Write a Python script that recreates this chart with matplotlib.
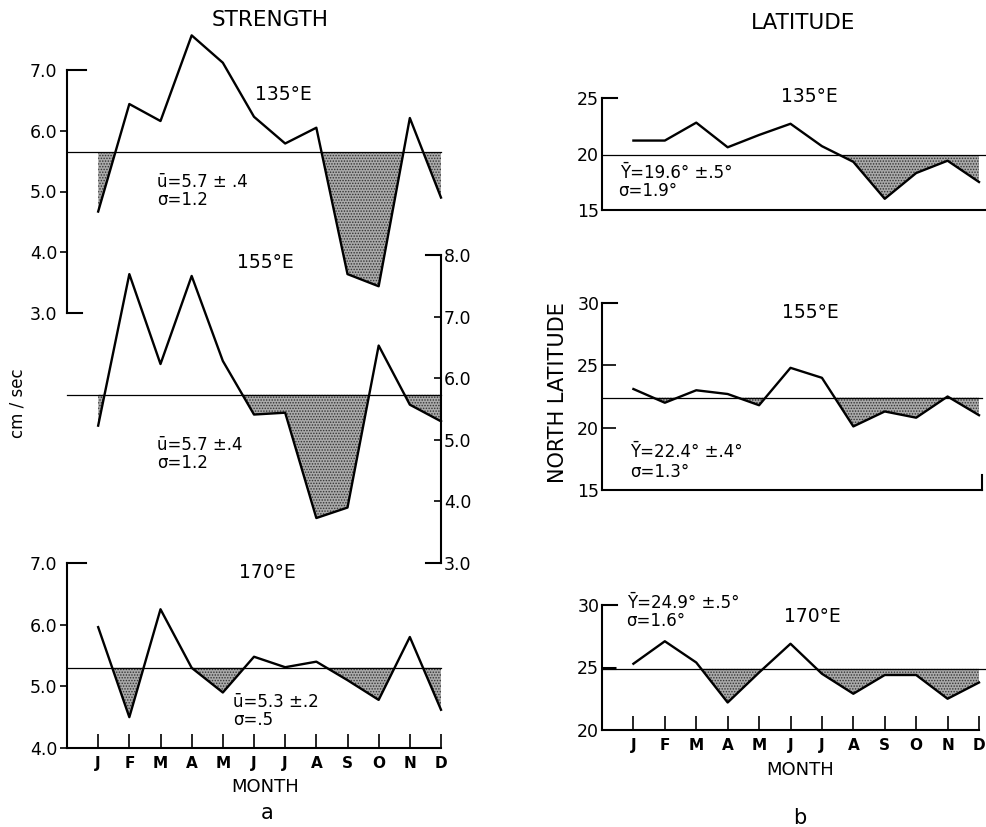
import matplotlib
matplotlib.use("Agg")
import matplotlib.pyplot as plt
import numpy as np

# chart data
months = ["J", "F", "M", "A", "M", "J", "J", "A", "S", "O", "N", "D"]

str_135 = [4.67, 6.44, 6.16, 7.57, 7.12, 6.23, 5.79, 6.05, 3.64, 3.44, 6.21, 4.90]
str_155 = [5.23, 7.69, 6.23, 7.66, 6.28, 5.41, 5.44, 3.73, 3.90, 6.53, 5.57, 5.30]
str_170 = [5.96, 4.50, 6.25, 5.30, 4.90, 5.48, 5.31, 5.40, 5.10, 4.78, 5.80, 4.62]
str_mean = [5.65, 5.73, 5.30]

lat_135 = [21.2, 21.2, 22.8, 20.6, 21.7, 22.7, 20.7, 19.3, 16.0, 18.3, 19.4, 17.5]
lat_155 = [23.1, 22.0, 23.0, 22.7, 21.8, 24.8, 24.0, 20.1, 21.3, 20.8, 22.5, 21.0]
lat_170 = [25.3, 27.1, 25.4, 22.2, 24.6, 26.9, 24.5, 22.9, 24.4, 24.4, 22.5, 23.8]
lat_mean = [19.9, 22.4, 24.9]

str_ticks_135 = [3, 4, 5, 6, 7]
str_ticks_155 = [3, 4, 5, 6, 7, 8]
str_ticks_170 = [4, 5, 6, 7]
lat_ticks_135 = [15, 20, 25]
lat_ticks_155 = [15, 20, 25, 30]
lat_ticks_170 = [20, 25, 30]

W, H = 986, 827
plt.rcParams["font.family"] = "DejaVu Sans"
plt.rcParams["hatch.linewidth"] = 0.7
fig = plt.figure(figsize=(W / 100, H / 100), dpi=100)

STUB = 0.48  # bracket stub length in month units


def panel(x0, y0, x1, y1, ylim):
    ax = fig.add_axes([x0 / W, 1 - y1 / H, (x1 - x0) / W, (y1 - y0) / H])
    ax.patch.set_alpha(0)
    for s in ax.spines.values():
        s.set_visible(False)
    ax.set_xlim(-1, 11)
    ax.set_ylim(*ylim)
    ax.set_xticks([])
    return ax


def series(ax, vals, mean, x_end=11):
    x = np.arange(len(vals))
    v = np.array(vals)
    ax.fill_between(x, v, mean, where=v < mean, interpolate=True,
                    facecolor="#aaaaaa", edgecolor="#333333", hatch="......",
                    linewidth=0)
    ax.plot([-1, x_end], [mean, mean], color="k", lw=0.9, clip_on=False)
    ax.plot(x, v, color="k", lw=1.7, clip_on=False)


def yaxis(ax, ticks, side="left", fmt="{:.1f}", direction="out", hide_ends=True):
    ax.spines[side].set_visible(True)
    ax.spines[side].set_linewidth(1.5)
    ax.spines[side].set_bounds(ticks[0], ticks[-1])
    if side == "right":
        ax.yaxis.tick_right()
    ax.set_yticks(ticks)
    ax.set_yticklabels([fmt.format(t) for t in ticks], fontsize=12.5)
    ax.tick_params(axis="y", direction=direction, length=5, width=1.2, pad=2)
    if hide_ends:
        tk = ax.yaxis.get_major_ticks()
        for i in (0, len(tk) - 1):
            tk[i].tick1line.set_visible(False)
            tk[i].tick2line.set_visible(False)


def stub(ax, y, xa, xb):
    ax.plot([xa, xb], [y, y], color="k", lw=1.5, clip_on=False)


def month_axis(ax, xmax=11):
    ax.spines["bottom"].set_visible(True)
    ax.spines["bottom"].set_linewidth(1.5)
    ax.spines["bottom"].set_bounds(-1, xmax)
    ax.set_xticks(np.arange(12))
    ax.set_xticklabels(months, fontsize=11, fontweight="bold")
    ax.tick_params(axis="x", direction="in", length=10, width=1.2, pad=6)


# ---- a: strength ----
ax1 = panel(67, 70, 441, 313, (3, 7))
series(ax1, str_135, str_mean[0])
yaxis(ax1, str_ticks_135)
stub(ax1, 7, -1, -1 + STUB * 1.3)
stub(ax1, 3, -1, -1 + STUB)

ax2 = panel(67, 255, 441, 563, (3, 8))
series(ax2, str_155, str_mean[1])
yaxis(ax2, str_ticks_155, side="right", direction="in")
stub(ax2, 8, 11 - STUB, 11)
stub(ax2, 3, 11 - STUB, 11)

ax3 = panel(67, 563, 441, 748, (4, 7))
series(ax3, str_170, str_mean[2])
yaxis(ax3, str_ticks_170)
ax3.yaxis.get_major_ticks()[0].tick1line.set_visible(True)
stub(ax3, 7, -1, -1 + STUB * 1.3)
month_axis(ax3)

# ---- b: latitude ----
ax4 = panel(602, 98, 979, 210, (15, 25))
series(ax4, lat_135, lat_mean[0], x_end=11.2)
yaxis(ax4, lat_ticks_135, fmt="{:d}", hide_ends=True)
ax4.tick_params(axis="y", length=0)
stub(ax4, 25, -1, -1 + STUB)
ax4.plot([-1, 11.2], [15, 15], color="k", lw=1.5, clip_on=False)

ax5 = panel(602, 303, 979, 490, (15, 30))
series(ax5, lat_155, lat_mean[1], x_end=11.1)
yaxis(ax5, lat_ticks_155, fmt="{:d}", direction="in")
ax5.tick_params(axis="y", length=10)
stub(ax5, 30, -1, -1 + STUB)
ax5.plot([-1, 11.1], [15, 15], color="k", lw=1.5, clip_on=False)
ax5.plot([11.1, 11.1], [15, 16.2], color="k", lw=1.5, clip_on=False)

ax6 = panel(602, 605, 979, 730, (20, 30))
series(ax6, lat_170, lat_mean[2], x_end=11.2)
yaxis(ax6, lat_ticks_170, fmt="{:d}", direction="in")
ax6.tick_params(axis="y", length=10, width=2.2)
stub(ax6, 30, -1, -1 + STUB)
month_axis(ax6)


def ftext(x, y, s, size=12, ha="left", **kw):
    fig.text(x / W, 1 - y / H, s, fontsize=size, ha=ha, va="center", **kw)


# left labels
ftext(270, 20, "STRENGTH", 15.5, "center")
ftext(283, 95, "135°E", 13.5, "center")
ftext(157, 182, "ū=5.7 ± .4")
ftext(157, 200, "σ=1.2")
ftext(265, 262, "155°E", 13.5, "center")
ftext(157, 445, "ū=5.7 ±.4")
ftext(157, 463, "σ=1.2")
ftext(267, 573, "170°E", 13.5, "center")
ftext(233, 702, "ū=5.3 ±.2")
ftext(233, 720, "σ=.5")
ftext(265, 787, "MONTH", 13, "center")
ftext(267, 813, "a", 15, "center")
ftext(17, 403, "cm / sec", 12, "center", rotation=90)

# right labels
ftext(803, 23, "LATITUDE", 15.5, "center")
ftext(809, 97, "135°E", 13.5, "center")
ftext(620, 173, "Ȳ=19.6° ±.5°")
ftext(618, 191, "σ=1.9°")
ftext(810, 313, "155°E", 13.5, "center")
ftext(630, 452, "Ȳ=22.4° ±.4°")
ftext(630, 472, "σ=1.3°")
ftext(812, 616, "170°E", 13.5, "center")
ftext(627, 603, "Ȳ=24.9° ±.5°")
ftext(626, 621, "σ=1.6°")
ftext(558, 393, "NORTH LATITUDE", 15, "center", rotation=90)
ftext(800, 770, "MONTH", 13, "center")
ftext(800, 818, "b", 15, "center")

fig.savefig("out.png", dpi=100)
